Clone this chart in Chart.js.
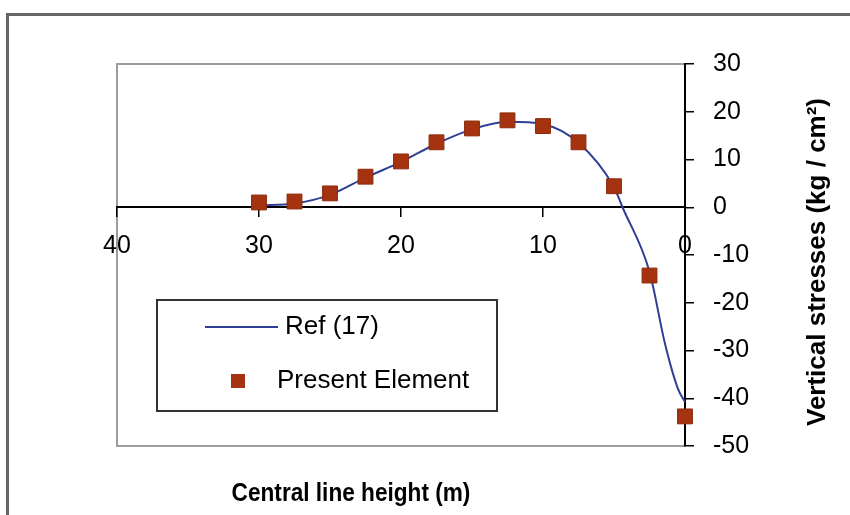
<!DOCTYPE html>
<html>
<head>
<meta charset="utf-8">
<script src="https://cdn.jsdelivr.net/npm/chart.js@4"></script>
<style>
  html, body { margin: 0; padding: 0; background: #fff; }
  #wrap { width: 850px; height: 515px; }
</style>
</head>
<body>
<div id="wrap"><canvas id="c" width="850" height="515"></canvas></div>
<script>
// ---- data ----
const markerHeights = [30, 27.5, 25, 22.5, 20, 17.5, 15, 12.5, 10, 7.5, 5, 2.5, 0];
const presentElement = [1.0, 1.2, 2.9, 6.4, 9.6, 13.6, 16.5, 18.2, 17.0, 13.6, 4.4, -14.3, -43.8];
const refHeights = [30, 27.5, 25, 22.5, 20, 17.5, 15, 12.5, 10, 7.5, 5, 4.4, 2.5, 1.4, 0.5, 0];
const ref17 = [0.4, 0.8, 2.6, 6.2, 9.5, 13.3, 16.3, 17.9, 17.4, 13.5, 4.2, 0, -13.5, -28.7, -38, -40.8];
const xTicks = [40, 30, 20, 10, 0];
const yTicks = [30, 20, 10, 0, -10, -20, -30, -40, -50];
const seriesNames = ['Ref (17)', 'Present Element'];
const xTitle = 'Central line height (m)';
const yTitle = 'Vertical stresses (kg / cm\u00B2)';

const FONT = "'Liberation Sans', Arial, Helvetica, sans-serif";
const LINE_COLOR = '#2f3f96';
const MARK_COLOR = '#a5330f';

const decorations = {
  id: 'decorations',
  beforeDraw(chart) {
    const {ctx, chartArea: a} = chart;
    ctx.save();
    ctx.fillStyle = '#fff';
    ctx.fillRect(0, 0, chart.width, chart.height);
    // outer frame
    ctx.strokeStyle = '#666';
    ctx.lineWidth = 3;
    ctx.beginPath();
    ctx.moveTo(7.5, chart.height + 5);
    ctx.lineTo(7.5, 14.5);
    ctx.lineTo(chart.width + 5, 14.5);
    ctx.stroke();
    // plot frame
    ctx.strokeStyle = '#9c9c9c';
    ctx.lineWidth = 2;
    ctx.strokeRect(a.left, a.top, a.right - a.left, a.bottom - a.top);
    ctx.restore();
  },
  afterDraw(chart) {
    const {ctx} = chart;
    // x axis title (slightly condensed, as in the reference)
    ctx.save();
    ctx.fillStyle = '#000';
    ctx.textAlign = 'center';
    ctx.textBaseline = 'middle';
    ctx.translate(351, 494);
    ctx.scale(0.87, 1);
    ctx.font = 'bold 26px ' + FONT;
    ctx.fillText(xTitle, 0, 0);
    ctx.restore();
    // y axis title
    ctx.save();
    ctx.fillStyle = '#000';
    ctx.textAlign = 'center';
    ctx.textBaseline = 'middle';
    ctx.translate(818, 262);
    ctx.rotate(-Math.PI / 2);
    ctx.font = 'bold 26px ' + FONT;
    ctx.fillText(yTitle, 0, 0);
    ctx.restore();

    // legend
    ctx.save();
    ctx.fillStyle = '#fff';
    ctx.fillRect(157, 300, 340, 111);
    ctx.strokeStyle = '#333';
    ctx.lineWidth = 2;
    ctx.strokeRect(157, 300, 340, 111);
    const ds = chart.data.datasets;
    ctx.strokeStyle = ds[0].borderColor;
    ctx.lineWidth = 2;
    ctx.beginPath();
    ctx.moveTo(205, 327);
    ctx.lineTo(278, 327);
    ctx.stroke();
    ctx.fillStyle = ds[1].backgroundColor;
    ctx.fillRect(231, 374, 14, 14);
    ctx.fillStyle = '#000';
    ctx.font = '26px ' + FONT;
    ctx.textAlign = 'left';
    ctx.textBaseline = 'middle';
    ctx.fillText(ds[0].label, 285, 327);
    ctx.fillText(ds[1].label, 277, 381);
    ctx.restore();
  }
};

new Chart(document.getElementById('c'), {
  type: 'line',
  data: {
    datasets: [
      {
        label: seriesNames[0],
        data: refHeights.map((h, i) => ({x: h, y: ref17[i]})),
        borderColor: LINE_COLOR,
        backgroundColor: LINE_COLOR,
        borderWidth: 2,
        pointRadius: 0,
        cubicInterpolationMode: 'monotone',
        fill: false,
        order: 1,
        clip: false
      },
      {
        label: seriesNames[1],
        data: markerHeights.map((h, i) => ({x: h, y: presentElement[i]})),
        showLine: false,
        pointStyle: 'rect',
        pointRadius: 10.5,
        pointBackgroundColor: MARK_COLOR,
        pointBorderColor: '#8c2a0c',
        pointBorderWidth: 1,
        backgroundColor: MARK_COLOR,
        borderColor: MARK_COLOR,
        order: 0,
        clip: false
      }
    ]
  },
  options: {
    responsive: false,
    animation: false,
    devicePixelRatio: 1,
    layout: { padding: { left: 117, top: 64, right: 0, bottom: 69 } },
    plugins: {
      legend: { display: false },
      tooltip: { enabled: false },
      title: { display: false }
    },
    scales: {
      x: {
        type: 'linear',
        reverse: true,
        min: 0,
        max: 40,
        position: { y: 0 },
        afterBuildTicks: (s) => { s.ticks = xTicks.map(v => ({value: v})); },
        ticks: {
          color: '#000',
          font: { family: FONT, size: 25 },
          padding: 15,
          maxRotation: 0,
          callback: (v) => String(v)
        },
        grid: { drawOnChartArea: false, drawTicks: true, tickLength: 9, color: '#000', lineWidth: 1.5 },
        border: { display: true, color: '#000', width: 2 }
      },
      y: {
        type: 'linear',
        position: 'right',
        min: -50,
        max: 30,
        afterBuildTicks: (s) => { s.ticks = yTicks.map(v => ({value: v})); },
        afterFit: (s) => { s.width = 165; },
        ticks: {
          color: '#000',
          font: { family: FONT, size: 25 },
          padding: 19,
          callback: (v) => String(v)
        },
        grid: { drawOnChartArea: false, drawTicks: true, tickLength: 9, color: '#000', lineWidth: 1.5 },
        border: { display: true, color: '#000', width: 2 }
      }
    }
  },
  plugins: [decorations]
});
</script>
</body>
</html>
